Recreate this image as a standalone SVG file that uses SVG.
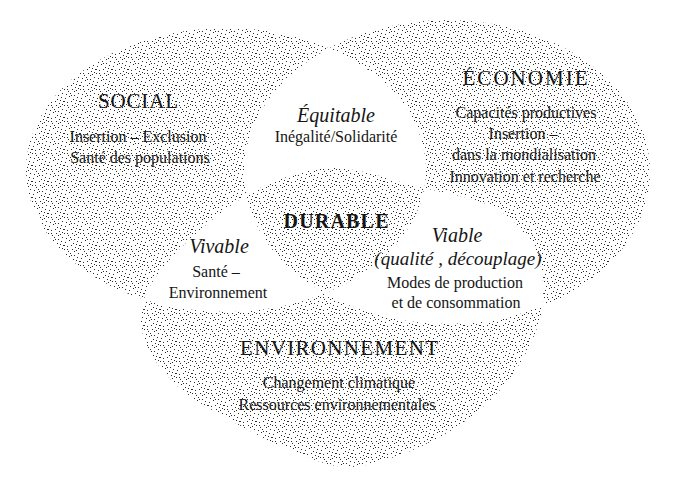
<svg xmlns="http://www.w3.org/2000/svg" xmlns:xlink="http://www.w3.org/1999/xlink" width="693" height="490" viewBox="0 0 693 490">
  <defs>
    <style>
      text { font-family: "Liberation Serif", "Times New Roman", serif; fill: #151515; text-anchor: middle; }
      .h { font-size: 21px; }
      .hb { font-size: 20px; font-weight: bold; }
      .b { font-size: 16px; }
      .i { font-size: 20px; font-style: italic; }
      .i2 { font-size: 19px; font-style: italic; }
      .dots { fill: url(#dots); }
      .blank { fill: #ffffff; }
    </style>
    <pattern id="dots" width="16" height="16" patternUnits="userSpaceOnUse">
      <path fill="#2a2a2a" d="M1 2h1v1h-1z M5 0h1v1h-1z M9 3h1v1h-1z M13 1h1v1h-1z M3 6h1v1h-1z M7 5h1v1h-1z M11 7h1v1h-1z M15 5h1v1h-1z M0 9h1v1h-1z M4 11h1v1h-1z M8 9h1v1h-1z M12 10h1v1h-1z M2 14h1v1h-1z M6 13h1v1h-1z M10 15h1v1h-1z M14 13h1v1h-1z M14 8h1v1h-1z M3 9h1v1h-1z M12 4h1v1h-1z M7 15h1v1h-1z M0 5h1v1h-1z M10 11h1v1h-1z"/>
    </pattern>
    <ellipse id="sshape" cx="226" cy="170" rx="200" ry="142"/>
    <ellipse id="eshape" cx="447" cy="172" rx="203" ry="152"/>
    <path id="vshape" d="M333 168 C358.8 167.7 388 179.3 415 186 C442 192.7 475 197.3 495 208 C515 218.7 527 234.7 535 250 C543 265.3 543.8 284.2 543 300 C542.2 315.8 537.2 330 530 345 C522.8 360 512.5 376.2 500 390 C487.5 403.8 471.7 417.2 455 428 C438.3 438.8 418.3 448.5 400 455 C381.7 461.5 363.3 467.8 345 467 C326.7 466.2 309.2 457.8 290 450 C270.8 442.2 248 430 230 420 C212 410 195.3 401.3 182 390 C168.7 378.7 156.8 364.5 150 352 C143.2 339.5 140.2 327.3 141 315 C141.8 302.7 145.2 292.2 155 278 C164.8 263.8 182.5 245 200 230 C217.5 215 237.8 198.3 260 188 C282.2 177.7 307.2 168.3 333 168 Z"/>
    <clipPath id="clipS"><use xlink:href="#sshape"/></clipPath>
    <clipPath id="clipE"><use xlink:href="#eshape"/></clipPath>
    <mask id="notS">
      <rect x="0" y="0" width="693" height="490" fill="#ffffff"/>
      <use xlink:href="#sshape" fill="#000000"/>
    </mask>
  </defs>

  <rect x="0" y="0" width="693" height="490" fill="#ffffff"/>

  <g id="social">
    <use xlink:href="#sshape" class="dots"/>
    <text class="h" x="138" y="108" textLength="80" lengthAdjust="spacing">SOCIAL</text>
    <text class="b" x="138" y="142">Insertion – Exclusion</text>
    <text class="b" x="140" y="163">Santé des populations</text>
  </g>

  <g id="economie">
    <use xlink:href="#eshape" class="dots"/>
    <text class="h" x="525" y="85" textLength="125" lengthAdjust="spacing">ÉCONOMIE</text>
    <text class="b" x="526" y="118">Capacités productives</text>
    <text class="b" x="523" y="139">Insertion –</text>
    <text class="b" x="524" y="160">dans la mondialisation</text>
    <text class="b" x="525" y="182">Innovation et recherche</text>
  </g>

  <g id="environnement">
    <use xlink:href="#vshape" class="dots"/>
    <text class="h" x="339" y="355" textLength="198" lengthAdjust="spacing">ENVIRONNEMENT</text>
    <text class="b" x="339" y="388">Changement climatique</text>
    <text class="b" x="337" y="410">Ressources environnementales</text>
  </g>

  <g id="equitable">
    <use xlink:href="#eshape" class="blank" clip-path="url(#clipS)"/>
    <text class="i" x="336" y="122">Équitable</text>
    <text class="b" x="336" y="142">Inégalité/Solidarité</text>
  </g>

  <g id="vivable">
    <use xlink:href="#vshape" class="blank" clip-path="url(#clipS)"/>
    <text class="i" x="219" y="253">Vivable</text>
    <text class="b" x="216" y="277">Santé –</text>
    <text class="b" x="218" y="298">Environnement</text>
  </g>

  <g id="durable">
    <g clip-path="url(#clipS)">
      <use xlink:href="#vshape" class="dots" clip-path="url(#clipE)"/>
    </g>
    <text class="hb" x="336" y="228" textLength="105" lengthAdjust="spacing">DURABLE</text>
  </g>

  <g id="viable">
    <g mask="url(#notS)">
      <use xlink:href="#vshape" class="blank" clip-path="url(#clipE)"/>
    </g>
    <text class="i" x="457" y="242">Viable</text>
    <text class="i2" x="458" y="265">(qualité , découplage)</text>
    <text class="b" x="455" y="288">Modes de production</text>
    <text class="b" x="456" y="308">et de consommation</text>
  </g>
</svg>
